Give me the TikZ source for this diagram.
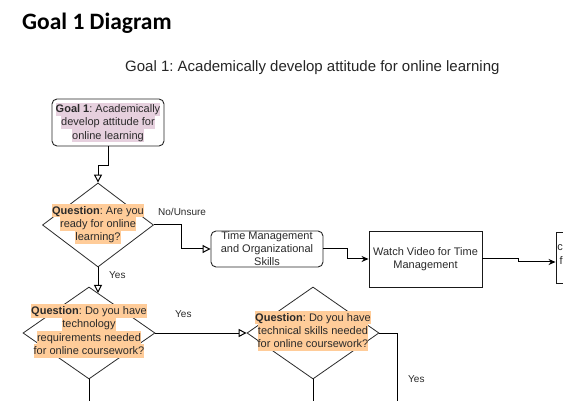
\documentclass[tikz,border=0pt]{standalone}
\usepackage{fontspec}
\setmainfont{Liberation Sans}
\newfontfamily\calibri{Carlito}
\usetikzlibrary{arrows.meta,shapes.geometric,calc}
\frenchspacing
\definecolor{pinkhl}{HTML}{E6D0DE}
\definecolor{orangehl}{HTML}{FFCC99}
\definecolor{txt}{HTML}{2A2A2A}
\newcommand\hlline[2]{{\setlength{\fboxsep}{0pt}\colorbox{#1}{\rule[-3.3pt]{0pt}{13.3pt}#2}}}
\tikzset{
  lbl/.style={font=\fontsize{11}{13.3}\selectfont, text=txt, align=center, inner sep=0pt},
  rbox/.style={draw=black!85, line width=0.9pt, rounded corners=5pt, inner sep=0pt},
  sbox/.style={draw=black!90, line width=0.9pt, inner sep=0pt},
  dia/.style={draw=txt, line width=0.8pt, diamond, inner sep=0pt},
  conn/.style={draw=black, line width=1pt},
  openarr/.style={-{Triangle[open,length=8pt,width=8pt]}},
  fillarr/.style={-{Stealth[length=7pt,width=6pt]}},
  edgelbl/.style={font=\fontsize{10}{12}\selectfont, text=txt, inner sep=0pt},
}
\begin{document}
\begin{tikzpicture}[x=1pt,y=-1pt]
\clip (0,0) rectangle (563,401);
\fill[white] (0,0) rectangle (563,401);

% titles
\node[anchor=base west, inner sep=0pt, font=\calibri\bfseries\fontsize{23.5}{28}\selectfont] (title) at (22,30) {Goal 1 Diagram};
\node[anchor=base west, inner sep=0pt, font=\fontsize{15}{18}\selectfont, text=black!85] (subtitle) at (125,72) {Goal 1: Academically develop attitude for online learning};

% goal box
\node[rbox, minimum width=112pt, minimum height=47pt] (goal) at (108,122.5) {};
\node[lbl] (goaltxt) at (108,122.5) {\hlline{pinkhl}{\textbf{Goal 1}: Academically}\\\hlline{pinkhl}{develop attitude for}\\\hlline{pinkhl}{online learning}};

% diamond 1
\node[dia, minimum width=111pt, minimum height=84pt] (d1) at (98,225) {};
\node[lbl] (d1txt) at (98,224) {\hlline{orangehl}{\textbf{Question}: Are you}\\\hlline{orangehl}{ready for online}\\\hlline{orangehl}{learning?}};

% box 2
\node[rbox, minimum width=112pt, minimum height=36pt] (b2) at (267,249) {};
\node[lbl] (b2txt) at (267,248.5) {Time Management\\and Organizational\\Skills};

% box 3
\node[sbox, minimum width=113pt, minimum height=56pt] (b3) at (425.5,259) {};
\node[lbl] (b3txt) at (425.5,259) {Watch Video for Time\\Management};

% box 4 (cut off at the right edge)
\node[sbox, minimum width=114pt, minimum height=51pt] (b4) at (613,257.5) {};
\node[lbl, anchor=east] (b4a) at (563,247.5) {c};
\node[lbl, anchor=east] (b4b) at (563,260.5) {f};

% diamond 2
\node[dia, minimum width=132pt, minimum height=92pt] (d2) at (89,333) {};
\node[lbl] (d2txt) at (89,331) {\hlline{orangehl}{\textbf{Question}: Do you have}\\\hlline{orangehl}{technology}\\\hlline{orangehl}{requirements needed}\\\hlline{orangehl}{for online coursework?}};

% diamond 3
\node[dia, minimum width=132pt, minimum height=92pt] (d3) at (313,333) {};
\node[lbl] (d3txt) at (313,331) {\hlline{orangehl}{\textbf{Question}: Do you have}\\\hlline{orangehl}{technical skills needed}\\\hlline{orangehl}{for online coursework?}};

% free ends
\coordinate (d2hit) at (98,293);
\coordinate (d2end) at (89,410);
\coordinate (d3end) at (313,410);
\coordinate (d3right) at (397,410);

% connectors
\draw[conn, openarr] (goal.south) -- ++(0,19) -| (d1.north);
\draw[conn, openarr] (d1.east) -- ++(28,0) |- (b2.west);
\draw[conn, fillarr] (b2.east) -- ++(24,0) |- (b3.west);
\draw[conn, fillarr] (b3.east) -- ++(36,0) |- ([yshift=-4.5pt]b4.west);
\draw[conn, openarr] (d1.south) -- (d2hit);
\draw[conn, openarr] (d2.east) -- (d3.west);
\draw[conn] (d2.south) -- (d2end);
\draw[conn] (d3.south) -- (d3end);
\draw[conn] (d3.east) -| (d3right);

% edge labels
\node[edgelbl, anchor=west] (lno) at (158,212) {No/Unsure};
\node[edgelbl, anchor=west] (lyes1) at (109,275) {Yes};
\node[edgelbl, anchor=west] (lyes2) at (175,314) {Yes};
\node[edgelbl, anchor=west] (lyes3) at (408,379) {Yes};
\end{tikzpicture}
\end{document}
